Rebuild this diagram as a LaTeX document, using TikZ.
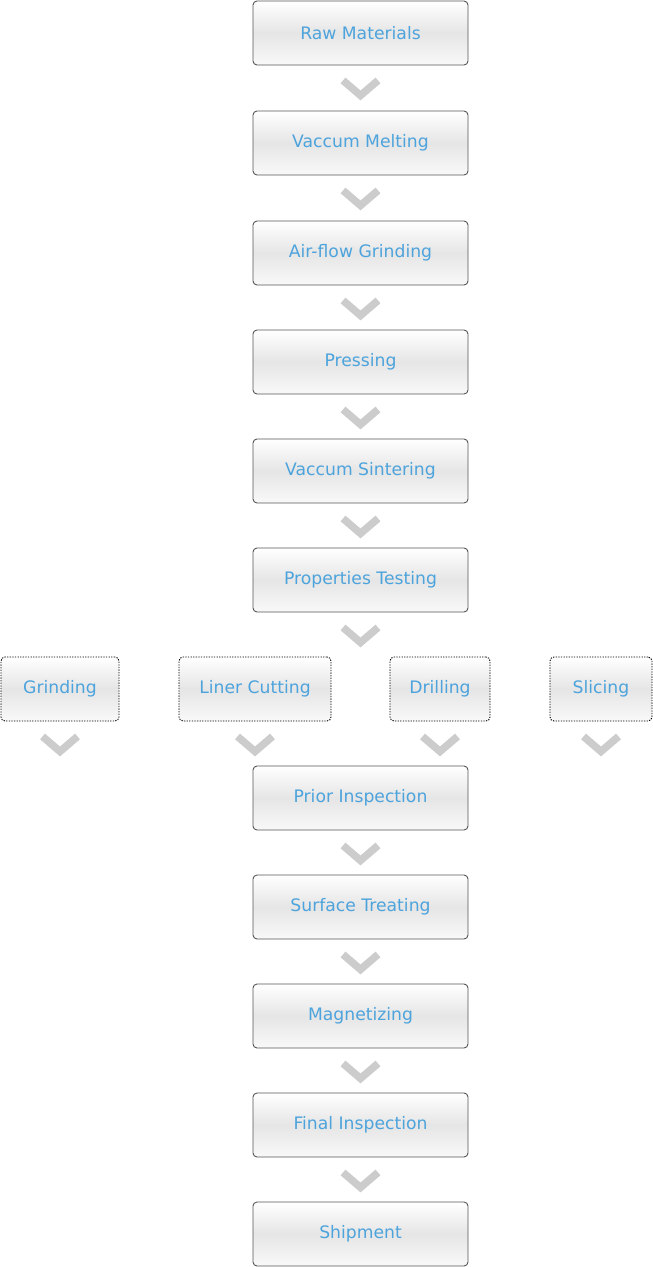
\documentclass[tikz,border=0pt]{standalone}
\usepackage{fontspec}
\setmainfont{DejaVu Sans}
\definecolor{steptext}{RGB}{77,163,220}
\definecolor{chevgray}{RGB}{204,204,204}
\definecolor{boxline}{RGB}{85,85,85}
\tikzset{
  stage/.style={draw=boxline, line width=0.9pt, rounded corners=4pt,
    minimum width=215pt, minimum height=64pt, inner sep=0pt,
    top color=white, bottom color=gray!5, middle color=gray!20,
    text=steptext, font=\fontsize{17.2}{20}\selectfont},
  option/.style={stage, draw=black, line width=0.9pt,
    dash pattern=on 1.3pt off 1.3pt, minimum width=#1},
  chevron/.style={draw=chevgray, line width=7.5pt, miter limit=10}
}
\begin{document}
\begin{tikzpicture}[x=1pt, y=-1pt]
    \useasboundingbox (0,0) rectangle (653,1267);

    \node[stage] (raw)   at (360.5,33)  {Raw Materials};
    \node[stage] (melt)  at (360.5,143) {Vaccum Melting};
    \node[stage] (grind) at (360.5,253) {Air-flow Grinding};
    \node[stage] (press) at (360.5,362) {Pressing};
    \node[stage] (sint)  at (360.5,471) {Vaccum Sintering};
    \node[stage] (test)  at (360.5,580) {Properties Testing};

    % Varianten der Bearbeitung
    \node[option=118pt] (grd)   at (60,689)  {Grinding};
    \node[option=152pt] (cut)   at (255,689) {Liner Cutting};
    \node[option=100pt] (drill) at (440,689) {Drilling};
    \node[option=102pt] (slice) at (601,689) {Slicing};

    \node[stage] (prior) at (360.5,798)  {Prior Inspection};
    \node[stage] (surf)  at (360.5,907)  {Surface Treating};
    \node[stage] (magn)  at (360.5,1016) {Magnetizing};
    \node[stage] (final) at (360.5,1125) {Final Inspection};
    \node[stage] (ship)  at (360.5,1234) {Shipment};

    \foreach \n in {raw,melt,grind,press,sint,test,grd,cut,drill,slice,prior,surf,magn,final}
        \draw[chevron] ([shift={(-17.5pt,-15pt)}]\n.south) -- ([yshift=-30pt]\n.south)
            -- ([shift={(17.5pt,-15pt)}]\n.south);
\end{tikzpicture}
\end{document}
